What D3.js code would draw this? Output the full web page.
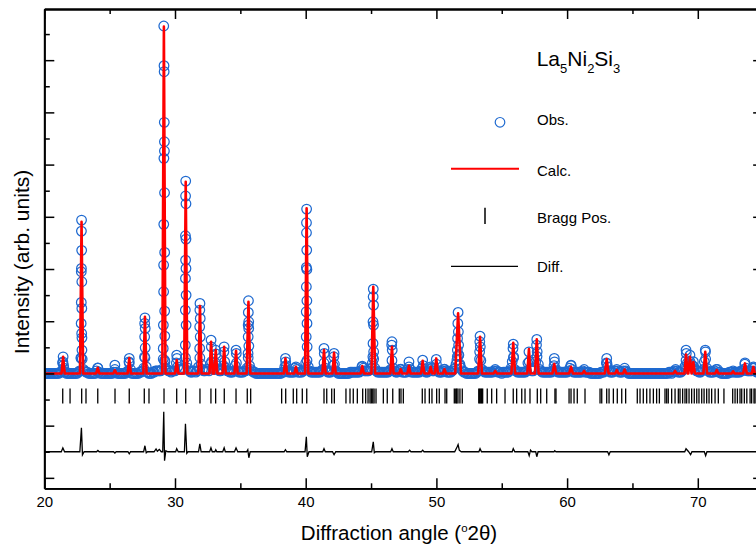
<!DOCTYPE html>
<html>
<head>
<meta charset="utf-8">
<script src="https://cdn.jsdelivr.net/npm/d3@7"></script>
<style>
  body { margin: 0; background: #fff; }
  svg { display: block; font-family: "Liberation Sans", Arial, sans-serif; }
</style>
</head>
<body>
<svg id="chart" width="756" height="549"></svg>
<script>
// ============================================================
//  Data
// ============================================================

// observed points along the background, start / step style like a raw scan file
const obsStart = 20;
const obsStep = 0.1;
const obsCounts = [
  4000, 4000, 4000, 4000, 4000, 4000, 4000, 4000, 4000, 4000,  // 20
  4000, 4000, 4050, 4050, 4400, 4200, 4050, 4000, 4000, 4000,  // 21
  4000, 4000, 4000, 4000, 4000, 4000, 4050, 4100, 4600, 4550,  // 22
  4150, 4100, 4050, 4050, 4000, 4000, 4000, 4000, 4000, 4000,  // 23
  4100, 4200, 4050, 4000, 4000, 4000, 4000, 4000, 4000, 4000,  // 24
  4000, 4000, 4000, 4050, 4150, 4050, 4000, 4000, 4000, 4000,  // 25
  4000, 4000, 4000, 4050, 4100, 4400, 4150, 4000, 4000, 4000,  // 26
  4000, 4000, 4000, 4050, 4050, 4100, 4200, 4600, 4250, 4050,  // 27
  4000, 4000, 4000, 4050, 4050, 4100, 4100, 4100, 4100, 4100,  // 28
  4150, 4550, 4500, 4200, 4150, 4100, 4100, 4050, 4100, 4100,  // 29
  4100, 4400, 4250, 4150, 4150, 4150, 4150, 4200, 4600, 4400,  // 30
  4200, 4100, 4050, 4050, 4100, 4100, 4050, 4100, 4250, 4600,  // 31
  4350, 4150, 4100, 4100, 4150, 4150, 4100, 4350, 4450, 4200,  // 32
  4150, 4400, 4300, 4150, 4100, 4100, 4150, 4300, 4450, 4200,  // 33
  4100, 4100, 4050, 4050, 4050, 4100, 4300, 4400, 4100, 4050,  // 34
  4050, 4050, 4050, 4100, 4100, 4200, 4600, 4300, 4150, 4100,  // 35
  4050, 4050, 4000, 4000, 4000, 4000, 4000, 4000, 4000, 4000,  // 36
  4000, 4000, 4000, 4000, 4000, 4000, 4000, 4000, 4000, 4000,  // 37
  4000, 4000, 4050, 4050, 4250, 4300, 4100, 4050, 4050, 4050,  // 38
  4050, 4050, 4200, 4150, 4050, 4050, 4050, 4050, 4100, 4150,  // 39
  4400, 4500, 4250, 4100, 4050, 4050, 4050, 4050, 4050, 4050,  // 40
  4050, 4050, 4100, 4150, 4400, 4200, 4100, 4050, 4050, 4050,  // 41
  4100, 4300, 4350, 4100, 4050, 4000, 4000, 4000, 4000, 4000,  // 42
  4000, 4000, 4000, 4000, 4050, 4050, 4050, 4050, 4050, 4050,  // 43
  4050, 4050, 4100, 4250, 4200, 4100, 4100, 4100, 4100, 4150,  // 44
  4200, 4400, 4550, 4200, 4100, 4050, 4050, 4050, 4050, 4050,  // 45
  4050, 4050, 4050, 4050, 4100, 4150, 4500, 4200, 4100, 4050,  // 46
  4050, 4100, 4150, 4150, 4050, 4050, 4050, 4050, 4150, 4250,  // 47
  4150, 4050, 4050, 4050, 4050, 4050, 4050, 4050, 4100, 4200,  // 48
  4300, 4100, 4050, 4050, 4100, 4150, 4200, 4100, 4100, 4200,  // 49
  4350, 4100, 4050, 4050, 4050, 4100, 4150, 4100, 4050, 4050,  // 50
  4050, 4050, 4100, 4150, 4200, 4350, 4650, 4700, 4350, 4200,  // 51
  4100, 4050, 4050, 4000, 4000, 4000, 4000, 4000, 4000, 4000,  // 52
  4000, 4050, 4100, 4550, 4500, 4150, 4100, 4050, 4050, 4050,  // 53
  4050, 4050, 4050, 4050, 4100, 4150, 4100, 4050, 4050, 4050,  // 54
  4000, 4050, 4050, 4050, 4050, 4050, 4100, 4200, 4450, 4600,  // 55
  4150, 4100, 4050, 4050, 4050, 4050, 4050, 4050, 4050, 4100,  // 56
  4400, 4450, 4200, 4100, 4100, 4200, 4450, 4650, 4350, 4150,  // 57
  4100, 4050, 4050, 4050, 4050, 4050, 4050, 4050, 4050, 4100,  // 58
  4300, 4200, 4100, 4050, 4050, 4050, 4050, 4050, 4050, 4050,  // 59
  4050, 4100, 4200, 4300, 4150, 4050, 4050, 4050, 4050, 4050,  // 60
  4050, 4050, 4100, 4150, 4050, 4050, 4050, 4050, 4000, 4000,  // 61
  4000, 4000, 4000, 4000, 4000, 4000, 4050, 4050, 4050, 4100,  // 62
  4400, 4250, 4100, 4050, 4050, 4050, 4100, 4100, 4150, 4100,  // 63
  4050, 4050, 4050, 4100, 4200, 4100, 4050, 4000, 4000, 4000,  // 64
  4000, 4000, 4000, 4000, 4000, 4000, 4000, 4000, 4000, 4000,  // 65
  4000, 4000, 4000, 4000, 4000, 4000, 4000, 4000, 4000, 4000,  // 66
  4000, 4000, 4000, 4000, 4000, 4000, 4000, 4000, 4050, 4050,  // 67
  4000, 4050, 4100, 4150, 4100, 4050, 4050, 4050, 4100, 4150,  // 68
  4250, 4500, 4400, 4350, 4450, 4350, 4300, 4250, 4150, 4100,  // 69
  4100, 4050, 4050, 4100, 4150, 4450, 4550, 4200, 4100, 4050,  // 70
  4050, 4050, 4050, 4100, 4150, 4150, 4050, 4050, 4000, 4000,  // 71
  4000, 4000, 4000, 4000, 4050, 4050, 4050, 4100, 4050, 4050,  // 72
  4050, 4050, 4050, 4100, 4100, 4150, 4350, 4200, 4100, 4100,  // 73
  4100, 4100, 4200, 4200, 4100, 4050, 4050, 4050, 4050, 4050   // 74
];

// observed points on the flanks of the peaks [2theta, counts]
const obsPeakPoints = [
  [21.44, 4637], [21.42, 4445], [21.47, 4318],
  [22.85, 9875], [22.84, 9453], [22.86, 8714], [22.84, 8024], [22.83, 7894], [22.87, 7511],
  [22.83, 6721], [22.87, 6491], [22.82, 5917], [22.86, 5533], [22.88, 5365], [22.88, 4893], [22.82, 4575],
  [24.09, 4215], [25.40, 4318], [26.50, 4575], [26.48, 4445],
  [27.70, 6131], [27.68, 5917], [27.72, 5725], [27.68, 5403], [27.72, 4982], [27.67, 4637],
  [29.14, 17310], [29.16, 15788], [29.17, 15558], [29.18, 13619], [29.19, 12876], [29.19, 12519],
  [29.15, 12239], [29.20, 10921], [29.14, 9710], [29.21, 8637], [29.13, 8151], [29.13, 7128],
  [29.21, 6388], [29.11, 5851], [29.22, 5430], [29.10, 4959], [29.23, 4450],
  [30.13, 4702], [30.15, 4575],
  [30.82, 11369], [30.81, 10795], [30.84, 10500], [30.80, 9273], [30.84, 9147], [30.81, 8342],
  [30.84, 8024], [30.80, 7641], [30.85, 7001], [30.79, 6426], [30.85, 5851], [30.79, 5085],
  [31.91, 6683], [31.90, 6426], [31.93, 6108], [31.89, 5786], [31.93, 5403], [31.89, 4959],
  [32.76, 5277], [32.78, 5020], [33.12, 4893], [33.14, 4750], [33.76, 5020], [33.74, 4828],
  [34.67, 4893], [34.69, 4767],
  [35.62, 6783], [35.61, 6338], [35.64, 5978], [35.60, 5852], [35.64, 5725], [35.60, 5403],
  [35.65, 5047], [35.59, 4767],
  [38.45, 4575], [38.47, 4445], [39.25, 4253],
  [40.07, 10296], [40.06, 9772], [40.06, 9389], [40.08, 8725], [40.05, 8062], [40.09, 7986],
  [40.05, 7320], [40.09, 6783], [40.04, 6361], [40.10, 5917], [40.04, 5403], [40.11, 5020],
  [41.40, 4959], [41.42, 4767], [42.17, 4767], [42.15, 4640], [44.33, 4280],
  [45.17, 7231], [45.16, 6936], [45.19, 6618], [45.15, 5978], [45.19, 5852], [45.15, 5150],
  [45.20, 4828], [45.14, 4637],
  [46.60, 5212], [46.58, 5085], [46.62, 4893], [47.27, 4165], [47.90, 4445],
  [48.95, 4510], [49.56, 4253], [49.99, 4537], [50.62, 4165],
  [51.66, 6338], [51.64, 5917], [51.68, 5595], [51.62, 5342], [51.70, 5085], [51.60, 4893],
  [51.72, 4702], [51.57, 4510], [51.75, 4318],
  [53.34, 5430], [53.32, 5212], [53.36, 5020], [53.31, 4828],
  [55.88, 5123], [55.86, 4959], [55.91, 4637], [57.08, 4828],
  [57.68, 5303], [57.66, 5085], [57.71, 4828], [59.02, 4575], [59.04, 4445], [60.30, 4318],
  [63.03, 4575], [63.05, 4384], [69.10, 4893], [69.12, 4767], [69.40, 4700], [69.66, 4450],
  [70.57, 4893], [70.59, 4828], [73.61, 4407], [74.25, 4250]
];

// calculated profile: flat background plus peaks [2theta, top, half base width]
const calcBackground = 4000;
const calcPeaks = [
  [21.44, 4637, 0.12], [22.85, 9810, 0.12], [24.09, 4215, 0.12], [25.40, 4127, 0.12],
  [26.50, 4587, 0.12], [27.70, 6170, 0.12], [29.15, 17283, 0.12], [30.13, 4510, 0.12],
  [30.82, 11343, 0.12], [31.91, 6580, 0.12], [32.76, 5212, 0.12], [33.12, 4893, 0.12],
  [33.76, 5020, 0.12], [34.67, 4867, 0.12], [35.62, 6744, 0.14], [38.45, 4575, 0.12],
  [39.25, 4253, 0.12], [40.07, 10323, 0.12], [41.40, 4893, 0.12], [42.17, 4790, 0.12],
  [44.33, 4280, 0.12], [45.17, 7320, 0.14], [46.60, 5020, 0.12], [47.27, 4165, 0.12],
  [47.90, 4292, 0.12], [48.95, 4484, 0.12], [49.56, 4253, 0.12], [49.99, 4575, 0.12],
  [50.62, 4165, 0.12], [51.66, 6300, 0.22], [53.34, 5403, 0.14], [54.50, 4100, 0.12],
  [55.88, 5173, 0.14], [57.08, 4932, 0.12], [57.68, 5303, 0.14], [59.02, 4357, 0.14],
  [60.30, 4253, 0.14], [61.30, 4100, 0.12], [63.03, 4548, 0.14], [63.80, 4130, 0.12],
  [64.40, 4150, 0.12], [68.26, 4100, 0.12], [69.10, 4728, 0.12], [69.40, 4637, 0.12],
  [69.66, 4433, 0.12], [70.57, 4828, 0.14], [71.45, 4130, 0.12], [72.70, 4080, 0.12],
  [73.61, 4384, 0.14], [74.25, 4250, 0.12]
];

// Bragg reflection positions (2theta)
const braggPositions = [
  21.41, 21.97, 22.86, 23.19, 24.09, 25.41, 26.50, 27.65, 28.01, 29.16, 30.13, 30.82,
  31.91, 32.75, 33.11, 33.77, 34.67, 35.53, 35.79,
  38.16, 38.47, 39.05, 39.31, 39.74, 40.08, 41.40, 41.61, 41.99, 42.19, 43.08, 43.39,
  43.64, 43.95, 44.36, 44.59, 44.77, 44.92, 45.02, 45.13, 45.23, 45.38, 45.94, 46.24,
  46.66, 47.16, 47.29, 47.47, 48.92, 49.13, 49.46, 49.66, 50.02, 50.22, 50.66, 50.79,
  51.37, 51.48, 51.55, 51.65, 51.80, 51.98, 53.24, 53.31, 53.39, 53.46, 53.54, 53.89,
  54.23, 54.61, 55.25, 55.88, 56.14, 56.53, 56.78, 57.16, 57.72, 57.98, 58.44, 59.07,
  59.15, 60.15, 60.30, 60.53, 60.78, 61.37, 62.52, 62.65, 63.03, 63.21, 63.54, 63.84,
  64.18, 64.48, 65.37, 65.58, 65.83, 66.09, 66.34, 66.60, 66.85, 67.06, 67.49, 67.62,
  67.74, 68.00, 68.26, 68.51, 68.64, 68.84, 69.02, 69.15, 69.33, 69.53, 69.73, 69.92,
  70.09, 70.30, 70.48, 70.68, 70.86, 71.06, 71.32, 71.57, 72.00, 72.67, 72.85, 73.03,
  73.23, 73.36, 73.56, 73.75, 74.00, 74.12, 74.30, 74.38
];
const braggLevel = 3140;

// difference curve (obs - calc), drawn around an offset
const diffOffset = 1000;
const diffPoints = [
  [20.0, 0], [21.30, 0], [21.42, 150], [21.55, 0],
  [22.72, 0], [22.84, 920], [22.92, -120], [23.05, 0],
  [24.00, 0], [24.10, 50], [24.20, 0], [25.30, 0], [25.40, -50], [25.50, 0],
  [26.40, 0], [26.50, -80], [26.60, 0],
  [27.60, 0], [27.70, 230], [27.80, -40], [27.90, 0],
  [28.40, 0], [28.55, 110], [28.65, 20], [28.80, 90], [28.95, 0],
  [29.06, 0], [29.14, 1530], [29.20, -345], [29.30, 40], [29.45, 0],
  [30.05, 0], [30.13, 115], [30.25, 0],
  [30.72, 0], [30.80, 1070], [30.90, -60], [31.00, 0],
  [31.80, 0], [31.90, 300], [32.00, 0],
  [32.65, 0], [32.75, 150], [32.85, 0], [33.05, 0], [33.12, 80], [33.20, 0],
  [33.65, 0], [33.76, 150], [33.85, 0], [34.55, 0], [34.67, 150], [34.80, 0],
  [35.48, 0], [35.57, 80], [35.65, -230], [35.75, 0],
  [38.35, 0], [38.45, 80], [38.55, 0],
  [39.95, 0], [40.05, 575], [40.12, -190], [40.25, 0],
  [41.30, 0], [41.40, 115], [41.50, 0], [42.05, 0], [42.17, -115], [42.30, 0],
  [45.05, 0], [45.17, 380], [45.25, -40], [45.35, 0],
  [46.50, 0], [46.60, 115], [46.70, 0], [47.85, 0], [47.95, 60], [48.05, 0],
  [48.85, 0], [48.95, 60], [49.05, 0],
  [51.40, 0], [51.58, 180], [51.66, 270], [51.75, 60], [51.90, 0],
  [53.25, 0], [53.34, 115], [53.45, 0], [55.80, 0], [55.88, 115], [56.00, 0],
  [57.00, 0], [57.10, -150], [57.20, 60], [57.30, 0], [57.60, 0], [57.68, -190], [57.78, 0],
  [59.00, 0], [59.05, 40], [59.15, 0], [63.10, 0], [63.20, -115], [63.30, 0],
  [69.00, 0], [69.10, 115], [69.30, 0], [69.45, -115], [69.55, 0],
  [70.50, 0], [70.60, -150], [70.70, 0], [75.0, 0]
];

// axis ticks
const xMajorTicks = [20, 30, 40, 50, 60, 70];
const xMinorTicks = [25, 35, 45, 55, 65, 75];
const yMajorTicks = [0, 2000, 4000, 6000, 8000, 10000, 12000, 14000, 16000];
const yMinorTicks = [1000, 3000, 5000, 7000, 9000, 11000, 13000, 15000, 17000];

// ============================================================
//  Chart
// ============================================================

const svg = d3.select('#chart');
const plot = { left: 44.3, right: 763.15, top: 9, bottom: 488.3 };
const obsColor = '#1f6ad0';

const x = d3.scaleLinear().domain([20, 75]).range([plot.left, plot.right]);
const y = d3.scaleLinear().domain([-400, 17960]).range([plot.bottom, plot.top]);

svg.append('defs').append('clipPath').attr('id', 'plot-clip')
  .append('rect')
  .attr('x', plot.left).attr('y', plot.top)
  .attr('width', plot.right - plot.left).attr('height', plot.bottom - plot.top);

const data = svg.append('g').attr('clip-path', 'url(#plot-clip)');

// observed: background scan + peak flanks
const obsAll = obsCounts.map((c, i) => [obsStart + i * obsStep, c]).concat(obsPeakPoints);

data.append('g').selectAll('circle')
  .data(obsAll)
  .join('circle')
  .attr('cx', d => x(d[0]))
  .attr('cy', d => y(d[1]))
  .attr('r', 4.8)
  .attr('fill', 'none')
  .attr('stroke', obsColor)
  .attr('stroke-width', 1.25);

// calc line vertices from peak list
const calcLine = [[20, calcBackground]];
calcPeaks.forEach(([p, top, hw]) => {
  calcLine.push([p - hw, calcBackground], [p, top], [p + hw, calcBackground]);
});
calcLine.push([75, calcBackground]);

data.append('path')
  .datum(calcLine)
  .attr('fill', 'none')
  .attr('stroke', '#ff0000')
  .attr('stroke-width', 2.6)
  .attr('stroke-linejoin', 'round')
  .attr('d', d3.line().x(d => x(d[0])).y(d => y(d[1])));

// Bragg ticks
data.append('g').selectAll('line')
  .data(braggPositions)
  .join('line')
  .attr('x1', d => x(d)).attr('x2', d => x(d))
  .attr('y1', y(braggLevel) - 7.5).attr('y2', y(braggLevel) + 7.5)
  .attr('stroke', '#000')
  .attr('stroke-width', 1.3);

// difference
data.append('path')
  .datum(diffPoints)
  .attr('fill', 'none')
  .attr('stroke', '#000')
  .attr('stroke-width', 1.3)
  .attr('d', d3.line().x(d => x(d[0])).y(d => y(d[1] + diffOffset)));

// ---- axes (ticks point inward on all four sides) ----
function styleAxis(g) {
  g.select('.domain').attr('stroke-width', 1.8);
  g.selectAll('.tick line').attr('stroke-width', 1.5);
}

svg.append('g').attr('transform', `translate(0,${plot.bottom})`)
  .call(d3.axisBottom(x).tickValues(xMinorTicks).tickSizeInner(-5).tickSizeOuter(0).tickFormat(''))
  .call(styleAxis);
svg.append('g').attr('transform', `translate(0,${plot.bottom})`)
  .call(d3.axisBottom(x).tickValues(xMajorTicks).tickSizeInner(-10).tickSizeOuter(0).tickPadding(8.5))
  .call(styleAxis)
  .call(g => g.selectAll('text').attr('font-size', 15).attr('fill', '#000')
    .attr('font-family', '"Liberation Sans", Arial, sans-serif'));

svg.append('g').attr('transform', `translate(0,${plot.top})`)
  .call(d3.axisTop(x).tickValues(xMinorTicks).tickSizeInner(-5).tickSizeOuter(0).tickFormat(''))
  .call(styleAxis);
svg.append('g').attr('transform', `translate(0,${plot.top})`)
  .call(d3.axisTop(x).tickValues(xMajorTicks).tickSizeInner(-10).tickSizeOuter(0).tickFormat(''))
  .call(styleAxis);

svg.append('g').attr('transform', `translate(${plot.left},0)`)
  .call(d3.axisLeft(y).tickValues(yMinorTicks).tickSizeInner(-5.5).tickSizeOuter(0).tickFormat(''))
  .call(styleAxis);
svg.append('g').attr('transform', `translate(${plot.left},0)`)
  .call(d3.axisLeft(y).tickValues(yMajorTicks).tickSizeInner(-10).tickSizeOuter(0).tickFormat(''))
  .call(styleAxis);

svg.append('g').attr('transform', `translate(${plot.right},0)`)
  .call(d3.axisRight(y).tickValues(yMinorTicks).tickSizeInner(-5.5).tickSizeOuter(0).tickFormat(''))
  .call(styleAxis);
svg.append('g').attr('transform', `translate(${plot.right},0)`)
  .call(d3.axisRight(y).tickValues(yMajorTicks).tickSizeInner(-10).tickSizeOuter(0).tickFormat(''))
  .call(styleAxis);

// ---- axis titles ----
const xTitle = svg.append('text')
  .attr('x', 399).attr('y', 540)
  .attr('text-anchor', 'middle')
  .attr('font-size', 20.5);
xTitle.append('tspan').text('Diffraction angle (');
xTitle.append('tspan').attr('font-size', 11.5).attr('dy', -8).text('o');
xTitle.append('tspan').attr('dy', 8).text('2θ)');

svg.append('text')
  .attr('transform', 'translate(28.5,262) rotate(-90)')
  .attr('text-anchor', 'middle')
  .attr('font-size', 21)
  .text('Intensity (arb. units)');

// ---- legend ----
const phase = svg.append('text').attr('x', 536.7).attr('y', 65.7).attr('font-size', 21);
[['La', null], ['5', 'sub'], ['Ni', null], ['2', 'sub'], ['Si', null], ['3', 'sub']].forEach(([t, kind], i, arr) => {
  const prevSub = i > 0 && arr[i - 1][1] === 'sub';
  let dy = 0;
  if (kind === 'sub') dy = 7.5;
  else if (prevSub) dy = -7.5;
  phase.append('tspan').attr('dy', dy).attr('font-size', kind === 'sub' ? 13 : 21).text(t);
});

const legend = svg.append('g');
legend.append('circle').attr('cx', 500).attr('cy', 122.3).attr('r', 4.8)
  .attr('fill', 'none').attr('stroke', obsColor).attr('stroke-width', 1.2);
legend.append('line').attr('x1', 451).attr('x2', 519).attr('y1', 168.7).attr('y2', 168.7)
  .attr('stroke', '#ff0000').attr('stroke-width', 2);
legend.append('line').attr('x1', 485).attr('x2', 485).attr('y1', 207.7).attr('y2', 224)
  .attr('stroke', '#000').attr('stroke-width', 1.5);
legend.append('line').attr('x1', 451).attr('x2', 518).attr('y1', 266.3).attr('y2', 266.3)
  .attr('stroke', '#000').attr('stroke-width', 1.3);

const legendLabels = [['Obs.', 125], ['Calc.', 175.5], ['Bragg Pos.', 222.5], ['Diff.', 272]];
legend.selectAll('text.lab')
  .data(legendLabels)
  .join('text')
  .attr('class', 'lab')
  .attr('x', 537)
  .attr('y', d => d[1])
  .attr('font-size', 15)
  .text(d => d[0]);
</script>
</body>
</html>
